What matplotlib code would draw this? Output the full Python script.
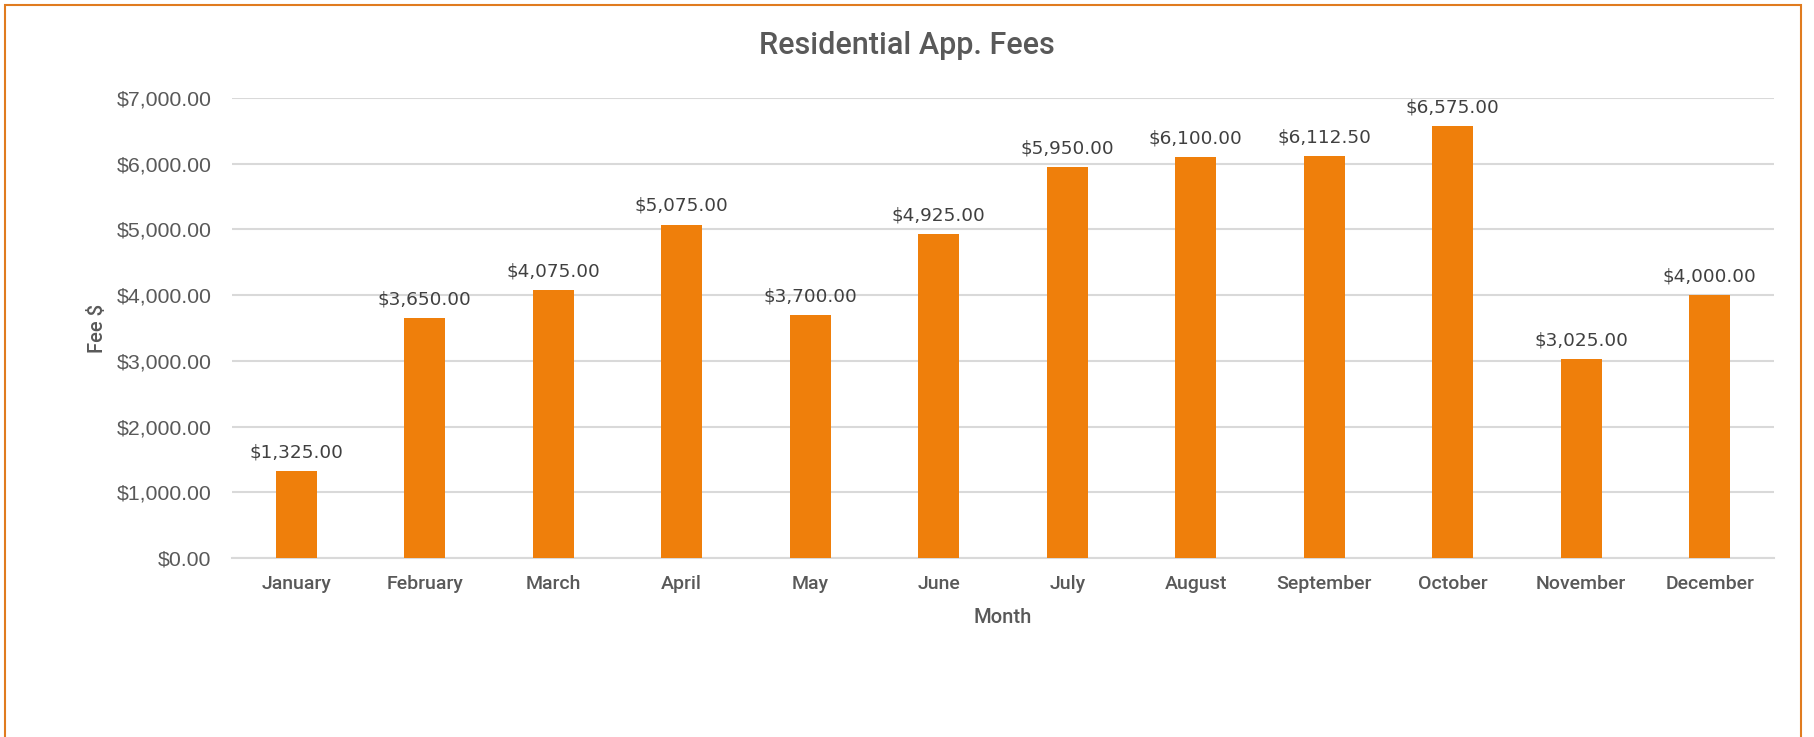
import matplotlib
matplotlib.use("Agg")
import matplotlib.pyplot as plt
from matplotlib import font_manager
from matplotlib.patches import Rectangle

# data
months = ["January", "February", "March", "April", "May", "June", "July",
          "August", "September", "October", "November", "December"]
fees = [1325.00, 3650.00, 4075.00, 5075.00, 3700.00, 4925.00, 5950.00,
        6100.00, 6112.50, 6575.00, 3025.00, 4000.00]
yticks = [0, 1000, 2000, 3000, 4000, 5000, 6000, 7000]

# fonts: Roboto for the medium weight bits, Liberation for y ticks
names = {f.name for f in font_manager.fontManager.ttflist}
med = "Roboto" if "Roboto" in names else "Liberation Sans"
plain = "Liberation Sans"
wide = "DejaVu Sans"

grey = "#595959"
dark = "#404040"
orange = "#EF7F0B"

fig = plt.figure(figsize=(18.14, 7.37), dpi=100)
ax = fig.add_axes([0.1279, 0.2429, 0.850, 0.624])

x = range(len(months))
bars = ax.bar(x, fees, width=0.32, color=orange, zorder=3)

for b, v in zip(bars, fees):
    ax.annotate("${:,.2f}".format(v), (b.get_x() + b.get_width() / 2, v),
                xytext=(0, 7), textcoords="offset points", ha="center", va="bottom",
                fontsize=13.3, color=dark, family=wide)

ax.set_xlim(-0.5, len(months) - 0.5)
ax.set_ylim(0, 7000)
ax.set_yticks(yticks)
ax.set_yticklabels(["${:,.2f}".format(t) for t in yticks], family=plain, fontsize=15.3, color=grey)
ax.set_xticks(list(x))
ax.set_xticklabels(months, family=med, fontsize=14, color=grey, weight=500)
ax.tick_params(axis="both", length=0)
ax.tick_params(axis="x", pad=12)
ax.tick_params(axis="y", pad=15)
ax.grid(axis="y", color="#D9D9D9", linewidth=1.5, zorder=0)
for s in ["top", "right", "left"]:
    ax.spines[s].set_visible(False)
ax.spines["bottom"].set_color("#D9D9D9")
ax.spines["bottom"].set_linewidth(1.5)

fig.text(0.5, 0.938, "Residential App. Fees", ha="center", va="center",
         fontsize=22, color=grey, family=med, weight=500)
fig.text(0.054, 0.554, "Fee $", rotation=90, ha="center", va="center",
         fontsize=14.5, color=grey, family=med, weight=500)
fig.text(0.553, 0.162, "Month", ha="center", va="center",
         fontsize=14.5, color=grey, family=med, weight=500)

# orange frame round the chart, open at the bottom
fig.patches.append(Rectangle((5 / 1814, -0.1), 1796 / 1814, 1.1 - 5 / 737,
                             transform=fig.transFigure, fill=False,
                             edgecolor="#E07B1F", linewidth=1.5))

fig.savefig("out.png", dpi=100)
